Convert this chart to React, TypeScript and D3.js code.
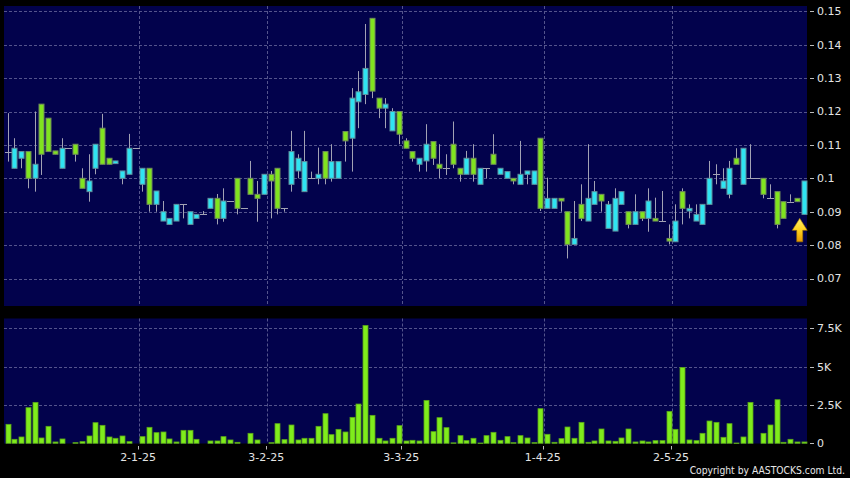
import React from "react";
import * as d3 from "d3";

const opens = [
  0.108, 0.103, 0.106, 0.108, 0.100, 0.1222, 0.118, 0.1082, 0.103, 0.109,
  0.1102, 0.100, 0.096, 0.103, 0.115, 0.106, 0.1044, 0.100, 0.1012, 0.109,
  0.0982, 0.103, 0.0922, 0.0872, 0.0862, 0.0872, 0.0922, 0.0862, 0.088, 0.0892,
  0.091, 0.094, 0.088, 0.0932, 0.100, 0.091, 0.100, 0.0952, 0.0952, 0.1012,
  0.103, 0.091, 0.0982, 0.1022, 0.096, 0.100, 0.100, 0.108, 0.100, 0.100,
  0.114, 0.112, 0.1229, 0.1251, 0.1479, 0.124, 0.121, 0.1142, 0.120, 0.1112,
  0.108, 0.1042, 0.1052, 0.111, 0.1042, 0.103, 0.1102, 0.103, 0.1012, 0.106,
  0.0982, 0.103, 0.1072, 0.1012, 0.100, 0.100, 0.0982, 0.1012, 0.0982, 0.112,
  0.091, 0.091, 0.094, 0.090, 0.0802, 0.0922, 0.0872, 0.0922, 0.0952, 0.085,
  0.0842, 0.0922, 0.090, 0.0862, 0.090, 0.088, 0.088, 0.0872, 0.082, 0.081,
  0.096, 0.0902, 0.0872, 0.0862, 0.0922, 0.1012, 0.097, 0.0952, 0.106, 0.0982,
  0.100, 0.100, 0.100, 0.094, 0.096, 0.093, 0.093, 0.094, 0.0892,
];
const highs = [
  0.1195, 0.112, 0.108, 0.108, 0.120, 0.1222, 0.118, 0.1082, 0.112, 0.109,
  0.1102, 0.103, 0.1072, 0.1102, 0.1193, 0.106, 0.1052, 0.1022, 0.1133, 0.109,
  0.103, 0.103, 0.0962, 0.0932, 0.088, 0.0922, 0.0922, 0.090, 0.0892, 0.0902,
  0.094, 0.0953, 0.097, 0.0932, 0.100, 0.091, 0.1052, 0.0992, 0.1012, 0.1022,
  0.103, 0.091, 0.1142, 0.1072, 0.1142, 0.102, 0.1092, 0.108, 0.1102, 0.105,
  0.114, 0.127, 0.1321, 0.1462, 0.1479, 0.124, 0.124, 0.121, 0.120, 0.112,
  0.108, 0.106, 0.1162, 0.111, 0.1102, 0.1072, 0.117, 0.103, 0.1082, 0.1102,
  0.103, 0.103, 0.1132, 0.103, 0.102, 0.100, 0.1112, 0.1022, 0.1022, 0.112,
  0.1002, 0.094, 0.094, 0.090, 0.0932, 0.0982, 0.1102, 0.0992, 0.0952, 0.0932,
  0.097, 0.096, 0.090, 0.0952, 0.090, 0.097, 0.0942, 0.0962, 0.0862, 0.0922,
  0.097, 0.0922, 0.0922, 0.0922, 0.1052, 0.1042, 0.103, 0.1052, 0.109, 0.109,
  0.1102, 0.100, 0.100, 0.0982, 0.096, 0.093, 0.0952, 0.094, 0.0992,
];
const lows = [
  0.105, 0.103, 0.103, 0.097, 0.096, 0.101, 0.108, 0.1072, 0.103, 0.109,
  0.105, 0.097, 0.093, 0.1012, 0.1042, 0.1042, 0.1044, 0.0982, 0.1012, 0.109,
  0.096, 0.090, 0.090, 0.0872, 0.0862, 0.0872, 0.088, 0.0862, 0.088, 0.0892,
  0.091, 0.0862, 0.087, 0.0932, 0.0892, 0.091, 0.0952, 0.087, 0.0952, 0.088,
  0.0892, 0.090, 0.096, 0.100, 0.096, 0.100, 0.0982, 0.0982, 0.099, 0.100,
  0.105, 0.102, 0.115, 0.1222, 0.124, 0.118, 0.115, 0.1142, 0.1102, 0.109,
  0.105, 0.102, 0.102, 0.104, 0.100, 0.101, 0.103, 0.099, 0.1012, 0.099,
  0.0982, 0.100, 0.1042, 0.1012, 0.100, 0.0982, 0.0982, 0.0982, 0.0982, 0.0902,
  0.091, 0.091, 0.090, 0.076, 0.0802, 0.0872, 0.0872, 0.0922, 0.090, 0.085,
  0.0842, 0.0922, 0.085, 0.0862, 0.0872, 0.084, 0.0872, 0.0872, 0.0802, 0.081,
  0.0862, 0.088, 0.0872, 0.0862, 0.0922, 0.0982, 0.097, 0.094, 0.1042, 0.0982,
  0.100, 0.100, 0.094, 0.094, 0.085, 0.088, 0.093, 0.093, 0.0892,
];
const closes = [
  0.108, 0.109, 0.108, 0.100, 0.1042, 0.1072, 0.108, 0.1072, 0.109, 0.109,
  0.1072, 0.097, 0.0992, 0.1102, 0.1042, 0.1042, 0.1052, 0.1022, 0.109, 0.109,
  0.103, 0.0922, 0.0962, 0.090, 0.088, 0.0922, 0.0922, 0.090, 0.0892, 0.0892,
  0.094, 0.088, 0.0932, 0.0932, 0.091, 0.091, 0.0952, 0.094, 0.1012, 0.0992,
  0.091, 0.091, 0.108, 0.106, 0.105, 0.100, 0.1012, 0.100, 0.105, 0.105,
  0.1112, 0.124, 0.1259, 0.1329, 0.1261, 0.121, 0.1222, 0.120, 0.1132, 0.109,
  0.106, 0.106, 0.1102, 0.106, 0.103, 0.103, 0.1042, 0.1012, 0.106, 0.1012,
  0.103, 0.103, 0.1042, 0.103, 0.102, 0.0992, 0.1012, 0.1022, 0.1022, 0.091,
  0.094, 0.094, 0.0932, 0.0802, 0.082, 0.088, 0.094, 0.096, 0.0932, 0.0922,
  0.094, 0.096, 0.0862, 0.090, 0.088, 0.0932, 0.0872, 0.0872, 0.0812, 0.0872,
  0.091, 0.091, 0.0892, 0.0922, 0.100, 0.1012, 0.0992, 0.103, 0.1042, 0.109,
  0.100, 0.100, 0.0952, 0.094, 0.0862, 0.088, 0.093, 0.093, 0.0992,
];
const volumes = [
  1237, 260, 412, 2322, 2669, 347, 1107, 87, 282, 0,
  43, 109, 477, 1345, 1172, 412, 326, 477, 109, 0,
  434, 1042, 694, 738, 282, 87, 846, 846, 260, 0,
  152, 152, 434, 217, 65, 0, 651, 217, 0, 40,
  1280, 239, 1194, 217, 326, 326, 1107, 1931, 564, 911,
  738, 1693, 2561, 7682, 1823, 326, 152, 326, 1150, 152,
  195, 152, 2799, 760, 1671, 1020, 30, 499, 174, 326,
  20, 499, 716, 195, 434, 40, 499, 347, 43, 2257,
  586, 65, 304, 1063, 326, 1367, 65, 152, 933, 152,
  130, 347, 933, 87, 152, 87, 174, 174, 2083, 911,
  4948, 217, 174, 651, 1454, 1367, 391, 1280, 20, 412,
  2669, 0, 651, 1194, 2843, 65, 260, 87, 87,
];

const dateTickIdx = [20, 39, 59, 80, 99];
const dateTickLabels = ["2-1-25", "3-2-25", "3-3-25", "1-4-25", "2-5-25"];
const priceTicks = [0.07, 0.08, 0.09, 0.1, 0.11, 0.12, 0.13, 0.14, 0.15];
const priceTickLabels = ["0.07", "0.08", "0.09", "0.1", "0.11", "0.12", "0.13", "0.14", "0.15"];
const volTicks = [0, 2500, 5000, 7500];
const volTickLabels = ["0", "2.5K", "5K", "7.5K"];

const NAVY = "#02024c";
const CYAN = "#2fe4f2";
const GREEN = "#80e41f";
const GRID = "#54548c";
const WICK = "#a2a2b4";
const FONT = "'DejaVu Sans', Verdana, sans-serif";

export default function App() {
  const n = opens.length;
  const x = d3.scaleLinear().domain([0, n]).range([4.2, 806.9]);
  const y = d3.scaleLinear().domain([0.07, 0.15]).range([278.5, 11.3]);
  const yv = d3.scaleLinear().domain([0, 7500]).range([443.3, 328.3]);
  const cx = (i: number) => x(i + 0.5);
  const bw = 5;
  const lastI = n - 1;
  const arrowX = cx(lastI) - 3.8;
  const arrowTop = y(lows[lastI]) + 4;

  return (
    <svg
      width={850}
      height={478}
      style={{ position: "absolute", left: 0, top: 0, display: "block" }}
      xmlns="http://www.w3.org/2000/svg"
    >
      <defs>
        <linearGradient id="arrowGrad" x1="0" y1="0" x2="0" y2="1">
          <stop offset="0" stopColor="#fff06a" />
          <stop offset="0.5" stopColor="#ffd21e" />
          <stop offset="1" stopColor="#e89a00" />
        </linearGradient>
      </defs>
      <rect x={0} y={0} width={850} height={478} fill="#000" />
      {/* main panel */}
      <rect x={4} y={6} width={803} height={300} fill={NAVY} />
      {/* volume panel */}
      <rect x={4} y={318.5} width={803} height={125} fill={NAVY} />

      {/* grid main */}
      {priceTicks.map((p, k) => (
        <line key={"pg" + k} x1={4} x2={807} y1={Math.round(y(p)) + 0.5} y2={Math.round(y(p)) + 0.5}
          stroke={GRID} strokeDasharray="3,2" strokeWidth={1} />
      ))}
      {dateTickIdx.map((d, k) => (
        <line key={"dg" + k} x1={Math.round(x(d)) + 0.5} x2={Math.round(x(d)) + 0.5} y1={6} y2={306}
          stroke={GRID} strokeDasharray="3,2" strokeWidth={1} />
      ))}
      {/* grid volume */}
      {volTicks.slice(1).map((v, k) => (
        <line key={"vg" + k} x1={4} x2={807} y1={Math.round(yv(v)) + 0.5} y2={Math.round(yv(v)) + 0.5}
          stroke={GRID} strokeDasharray="3,2" strokeWidth={1} />
      ))}
      {dateTickIdx.map((d, k) => (
        <line key={"dvg" + k} x1={Math.round(x(d)) + 0.5} x2={Math.round(x(d)) + 0.5} y1={318.5} y2={443.5}
          stroke={GRID} strokeDasharray="3,2" strokeWidth={1} />
      ))}

      {/* candles */}
      {opens.map((o, i) => {
        const c = closes[i];
        const h = highs[i];
        const l = lows[i];
        const xc = Math.round(cx(i)) + 0.5;
        const top = y(Math.max(o, c));
        const bot = y(Math.min(o, c));
        if (o === c) {
          return (
            <g key={"c" + i}>
              {h !== l && <line x1={xc} x2={xc} y1={y(h)} y2={y(l)} stroke={WICK} strokeWidth={1} />}
              <line x1={xc - 3.5} x2={xc + 3.5} y1={Math.round(top) + 0.5} y2={Math.round(top) + 0.5} stroke={WICK} strokeWidth={1} />
            </g>
          );
        }
        const up = c > o;
        return (
          <g key={"c" + i}>
            <line x1={xc} x2={xc} y1={y(h)} y2={y(l)} stroke={WICK} strokeWidth={1} />
            <rect x={xc - bw / 2} y={top} width={bw} height={Math.max(1, bot - top)}
              fill={up ? CYAN : GREEN} stroke={up ? "#5f8f9c" : "#6f8a5a"} strokeWidth={1} />
          </g>
        );
      })}

      {/* volume bars */}
      {volumes.map((v, i) => {
        if (v <= 0) return null;
        const xc = Math.round(cx(i)) + 0.5;
        const t = yv(v);
        return (
          <rect key={"v" + i} x={xc - bw / 2} y={t} width={bw} height={Math.max(0.5, yv(0) - t)}
            fill="#7fec1c" stroke="#5aa418" strokeWidth={0.8} />
        );
      })}

      {/* arrow */}
      <path
        d={`M${arrowX},${arrowTop} L${arrowX + 7.5},${arrowTop + 12} L${arrowX + 3},${arrowTop + 12} L${arrowX + 3},${arrowTop + 23.5} L${arrowX - 3},${arrowTop + 23.5} L${arrowX - 3},${arrowTop + 12} L${arrowX - 7.5},${arrowTop + 12} Z`}
        fill="url(#arrowGrad)" stroke="#a07400" strokeWidth={0.6}
      />

      {/* right axis price */}
      {priceTicks.map((p, k) => (
        <g key={"pt" + k}>
          <line x1={810} x2={814} y1={Math.round(y(p)) + 0.5} y2={Math.round(y(p)) + 0.5} stroke="#bbbbbb" strokeWidth={1} />
          <text x={817} y={y(p)} dy="0.36em" fill="#e4e4e4" fontSize={11} fontFamily={FONT}>{priceTickLabels[k]}</text>
        </g>
      ))}
      {/* right axis volume */}
      {volTicks.map((v, k) => (
        <g key={"vt" + k}>
          <line x1={810} x2={814} y1={Math.round(yv(v)) + 0.5} y2={Math.round(yv(v)) + 0.5} stroke="#bbbbbb" strokeWidth={1} />
          <text x={817} y={yv(v)} dy="0.36em" fill="#e4e4e4" fontSize={11} fontFamily={FONT}>{volTickLabels[k]}</text>
        </g>
      ))}

      {/* date ticks */}
      {dateTickIdx.map((d, k) => (
        <g key={"dt" + k}>
          <line x1={Math.round(x(d)) - 1 + 0.5} x2={Math.round(x(d)) - 1 + 0.5} y1={446} y2={449.5} stroke="#bbbbbb" strokeWidth={1} />
          <text x={x(d) - 1} y={461} textAnchor="middle" fill="#e4e4e4" fontSize={11} fontFamily={FONT}>{dateTickLabels[k]}</text>
        </g>
      ))}

      <g transform="translate(845,473.5) scale(0.84,1)">
        <text x={0} y={0} textAnchor="end" fill="#e8e8e8" fontSize={11} fontFamily={FONT}>
          Copyright by AASTOCKS.com Ltd.
        </text>
      </g>
    </svg>
  );
}
